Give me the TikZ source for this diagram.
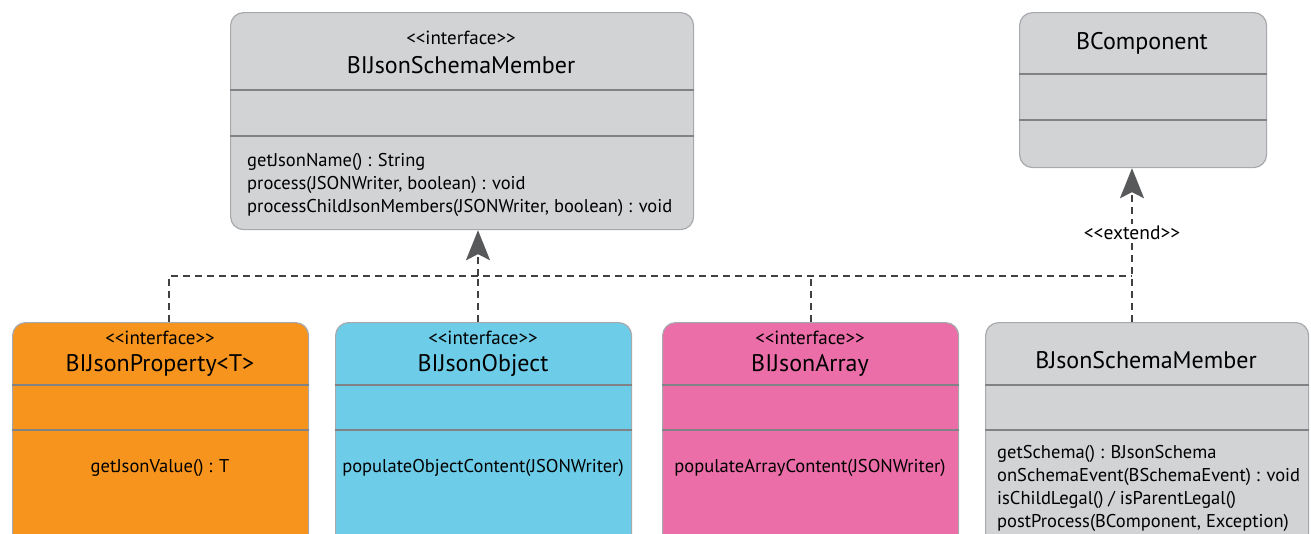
\documentclass[tikz,border=0pt]{standalone}
\usepackage{fontspec}
\setmainfont{PT Sans}
\usepackage{xcolor}
\usetikzlibrary{arrows.meta,positioning,calc}
\definecolor{clsgray}{HTML}{D1D3D4}
\definecolor{clsline}{HTML}{A7A9AC}
\definecolor{sepline}{HTML}{808285}
\definecolor{depline}{HTML}{414042}
\definecolor{tipgray}{HTML}{58595B}
\definecolor{jorange}{HTML}{F7941E}
\definecolor{jblue}{HTML}{6DCDE9}
\definecolor{jpink}{HTML}{EB6EA8}
\newcommand{\lguil}{<\kern0pt<}
\newcommand{\rguil}{>\kern0pt>}
\tikzset{
  cls/.style={draw=clsline,line width=1.2pt,rounded corners=13pt,anchor=north west,inner sep=0pt},
  sep/.style={draw=sepline,line width=2.6pt},
  stereo/.style={font=\fontsize{19}{22}\selectfont,inner sep=1pt},
  cname/.style={font=\fontsize{24}{28}\selectfont,inner sep=1pt},
  meth/.style={font=\fontsize{18.5}{23}\selectfont,align=left,inner sep=0pt},
  dep/.style={draw=depline,line width=1.8pt,dash pattern=on 7pt off 5pt},
  real/.style={dep,-{Stealth[length=30pt,width=24pt,inset=6pt,fill=tipgray,color=tipgray]}},
}

\begin{document}
\begin{tikzpicture}[x=1pt,y=-1pt]
  \useasboundingbox (0,0) rectangle (1311,533);
  \clip (0,0) rectangle (1311,533);
  % top interface
  \node[cls,fill=clsgray,minimum width=463pt,minimum height=217pt] (ijsm) at (230,12) {};
  \draw[sep] ([yshift=-78pt]ijsm.north west) -- ([yshift=-78pt]ijsm.north east);
  \draw[sep] ([yshift=-124pt]ijsm.north west) -- ([yshift=-124pt]ijsm.north east);
  \node[stereo] (ijsmst) at (461,38) {\lguil interface\rguil};
  \node[cname] (ijsmname) at (461,65) {BIJsonSchemaMember};
  \node[meth,anchor=north west] (ijsmops) at (247,153) {getJsonName() : String\\process(JSONWriter, boolean) : void\\processChildJsonMembers(JSONWriter, boolean) : void};
  % BComponent
  \node[cls,fill=clsgray,minimum width=247pt,minimum height=155pt] (comp) at (1019,12) {};
  \draw[sep] ([yshift=-62pt]comp.north west) -- ([yshift=-62pt]comp.north east);
  \draw[sep] ([yshift=-108pt]comp.north west) -- ([yshift=-108pt]comp.north east);
  \node[cname] (compname) at (1142,43) {BComponent};
  % bottom interfaces
  \foreach \nm/\col/\xx/\title/\op in {prop/jorange/12/{BIJsonProperty<T>}/{getJsonValue() : T},
      obj/jblue/335/{BIJsonObject}/{populateObjectContent(JSONWriter)},
      jarr/jpink/662/{BIJsonArray}/{populateArrayContent(JSONWriter)}}{
    \node[cls,fill=\col,minimum width=296pt,minimum height=225pt] (\nm) at (\xx,322) {};
    \draw[sep] ([yshift=-63pt]\nm.north west) -- ([yshift=-63pt]\nm.north east);
    \draw[sep] ([yshift=-108pt]\nm.north west) -- ([yshift=-108pt]\nm.north east);
    \node[stereo] (\nm st) at (\xx+148,338) {\lguil interface\rguil};
    \node[cname] (\nm name) at (\xx+148,365) {\title};
    \node[meth] (\nm ops) at (\xx+148,468) {\op};
  }
  % BJsonSchemaMember
  \node[cls,fill=clsgray,minimum width=323pt,minimum height=225pt] (jsm) at (985,322) {};
  \draw[sep] ([yshift=-63pt]jsm.north west) -- ([yshift=-63pt]jsm.north east);
  \draw[sep] ([yshift=-108pt]jsm.north west) -- ([yshift=-108pt]jsm.north east);
  \node[cname] (jsmname) at (1146,360) {BJsonSchemaMember};
  \node[meth,anchor=north west] (jsmops) at (997,445) {getSchema() : BJsonSchema\\onSchemaEvent(BSchemaEvent) : void\\isChildLegal() / isParentLegal()\\postProcess(BComponent, Exception)};
  % connectors
  \coordinate (hub) at (478,276);
  \coordinate (ext) at (1132,276);
  \draw[dep] ([xshift=8pt]prop.north) |- (ext);
  \draw[dep] (jarr.north) -- (jarr.north |- hub);
  \draw[dep] (obj.north -| hub) -- (hub);
  \draw[real] (hub) -- (ijsm.south -| hub);
  \draw[real] (jsm.north -| ext) -- (comp.south -| ext)
    node[pos=0.58,fill=white,inner sep=2pt,font=\fontsize{19.5}{22}\selectfont] (extlabel) {\lguil extend\rguil};
\end{tikzpicture}
\end{document}
